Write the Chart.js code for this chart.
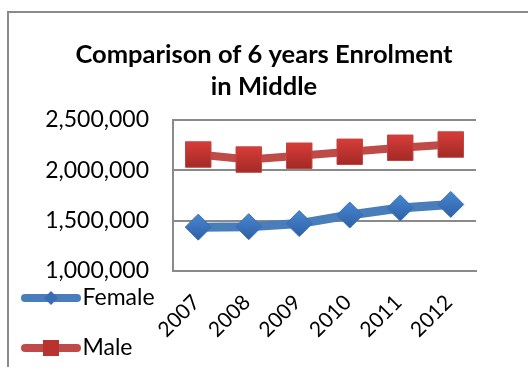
<!DOCTYPE html>
<html>
<head>
<meta charset="utf-8">
<script src="https://cdn.jsdelivr.net/npm/chart.js@4"></script>
<style>
  html, body { margin: 0; padding: 0; background: #fff; }
  #wrap { position: relative; width: 528px; height: 367px; }
</style>
</head>
<body>
<div id="wrap"><canvas id="chart" width="528" height="367"></canvas></div>
<script>
const years = ["2007", "2008", "2009", "2010", "2011", "2012"];
const female = [1435000, 1440000, 1470000, 1555000, 1625000, 1660000];
const male = [2155000, 2105000, 2143000, 2182000, 2222000, 2254000];
const titleLines = ["Comparison of 6 years Enrolment", "in Middle"];

const FONT = "Lato";
const GRID = "#8a8a8a";

// little line + marker picture for the legend
function legendIcon(lineColor, markColor, shape) {
  const c = document.createElement("canvas");
  c.width = 62;
  c.height = 20;
  const g = c.getContext("2d");
  g.strokeStyle = lineColor;
  g.lineWidth = 8;
  g.lineCap = "round";
  g.beginPath();
  g.moveTo(5, 10);
  g.lineTo(57, 10);
  g.stroke();
  g.fillStyle = markColor;
  if (shape === "diamond") {
    g.beginPath();
    g.moveTo(31, 3);
    g.lineTo(38, 10);
    g.lineTo(31, 17);
    g.lineTo(24, 10);
    g.closePath();
    g.fill();
  } else {
    g.fillRect(23, 2, 16, 16);
  }
  return c;
}

const icons = [
  legendIcon("#4a7ebb", "#3a6db3", "diamond"),
  legendIcon("#be4b48", "#b8322f", "square"),
];

function markerFill(top, bottom, r) {
  return (c) => {
    const ys = c.chart.scales.y;
    if (!ys || !c.parsed) return bottom;
    const py = ys.getPixelForValue(c.parsed.y);
    if (!Number.isFinite(py)) return bottom;
    const g = c.chart.ctx.createLinearGradient(0, py - r, 0, py + r);
    g.addColorStop(0, top);
    g.addColorStop(1, bottom);
    return g;
  };
}

const frame = {
  id: "frame",
  beforeDraw(chart) {
    const ctx = chart.ctx;
    ctx.save();
    ctx.strokeStyle = GRID;
    ctx.lineWidth = 2;
    ctx.strokeRect(8, 12, 700, 500);
    ctx.restore();
  },
  afterLayout(chart) {
    // legend sits bottom-left, over the axis area like the original
    const lg = chart.legend;
    lg.left = 4;
    lg.right = 200;
    lg.top = 259.5;
    lg.bottom = 460;
  },
};

new Chart(document.getElementById("chart"), {
  type: "line",
  data: {
    labels: years,
    datasets: [
      {
        label: "Female",
        data: female,
        borderColor: "#4a7ebb",
        borderWidth: 9,
        pointStyle: "rectRot",
        pointRadius: 13,
        pointBackgroundColor: markerFill("#4585d0", "#2f62a6", 12),
        pointBorderColor: "#3a6db3",
        pointBorderWidth: 1,
        tension: 0,
      },
      {
        label: "Male",
        data: male,
        borderColor: "#be4b48",
        borderWidth: 8,
        pointStyle: "rect",
        pointRadius: 18,
        pointBackgroundColor: markerFill("#d63c37", "#a42a27", 12),
        pointBorderColor: "#c04440",
        pointBorderWidth: 1,
        tension: 0,
      },
    ],
  },
  options: {
    responsive: false,
    animation: false,
    layout: { padding: 0 },
    plugins: {
      title: {
        display: true,
        text: titleLines,
        color: "#000",
        font: { family: FONT, size: 25.5, weight: "bold", lineHeight: 1.25 },
        padding: { top: 39, bottom: 17 },
      },
      legend: {
        position: "chartArea",
        align: "start",
        labels: {
          usePointStyle: true,
          pointStyleWidth: 40,
          padding: 27,
          color: "#000",
          font: { family: FONT, size: 23 },
          generateLabels(chart) {
            const items = Chart.defaults.plugins.legend.labels.generateLabels(chart);
            items.forEach((it, i) => {
              it.pointStyle = icons[i];
              it.rotation = 0;
            });
            return items;
          },
        },
      },
      tooltip: { enabled: false },
    },
    scales: {
      x: {
        offset: true,
        grid: { display: false, drawTicks: false },
        border: { display: true, color: GRID, width: 2 },
        ticks: {
          color: "#000",
          font: { family: FONT, size: 21 },
          minRotation: 45,
          maxRotation: 45,
          padding: 19,
          labelOffset: -2,
        },
        afterFit(s) { s.height = 96; },
      },
      y: {
        min: 1000000,
        max: 2500000,
        grid: { color: GRID, lineWidth: 2, drawTicks: false },
        border: { display: true, color: GRID, width: 2 },
        ticks: {
          stepSize: 500000,
          color: "#000",
          padding: 24,
          font: { family: FONT, size: 23 },
          callback: (v) => v.toLocaleString("en-US"),
        },
        afterFit(s) { s.width = 173; },
      },
      // empty right-hand space so the plot ends where the original does
      spacer: {
        position: "right",
        grid: { display: false, drawTicks: false },
        border: { display: false },
        ticks: { display: false },
        afterFit(s) { s.width = 52; },
      },
    },
  },
  plugins: [frame],
});
</script>
</body>
</html>
